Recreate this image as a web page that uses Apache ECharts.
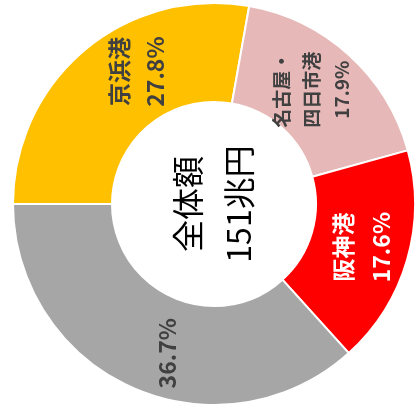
<!DOCTYPE html>
<html lang="ja">
<head>
    <meta charset="UTF-8">
    <script src="https://cdn.jsdelivr.net/npm/echarts@6/dist/echarts.min.js"></script>
    <style>
        body { margin: 0; background: #ffffff; }
        #chart { width: 420px; height: 410px; }
    </style>
</head>
<body>
    <div id="chart"></div>
    <script>
        var chart = echarts.init(document.getElementById('chart'));

        var ports = ['京浜港', '名古屋・\n四日市港', '阪神港', 'その他'];
        var shares = [27.8, 17.9, 17.6, 36.7];
        var showName = [true, true, true, false];
        var centerLines = ['全体額', '151兆円'];

        // looks
        var colors = ['#FFC000', '#E6B9B8', '#FF0000', '#A6A6A6'];
        var labelColors = ['#404040', '#404040', '#ffffff', '#404040'];
        var labelSizes = [23, 19, 23, 23];
        var labelLines = [36, 30, 38, 30];
        // screen-space nudges (px); label is rotated 90deg so we swap below
        var labelNudge = [[22, -14], [-6, 0], [0, 0], [16, 8]];

        var pieData = ports.map(function (name, i) {
            return {
                name: name,
                value: shares[i],
                itemStyle: { color: colors[i] },
                label: {
                    color: labelColors[i],
                    fontSize: labelSizes[i],
                    lineHeight: labelLines[i]
                }
            };
        });

        var option = {
            backgroundColor: '#ffffff',
            animation: false,
            graphic: [{
                type: 'text',
                x: 213,
                y: 204,
                rotation: Math.PI / 2,
                style: {
                    text: centerLines.join('\n'),
                    font: '32px "Noto Sans CJK JP"',
                    lineHeight: 51,
                    fill: '#000000',
                    align: 'center',
                    verticalAlign: 'middle'
                }
            }],
            series: [{
                type: 'pie',
                center: [214, 204],
                radius: [102, 201],
                startAngle: 180,
                clockwise: true,
                itemStyle: { borderColor: '#ffffff', borderWidth: 2 },
                label: {
                    position: 'inside',
                    rotate: 90,
                    fontFamily: '"Noto Sans CJK JP"',
                    fontWeight: 'bold',
                    formatter: function (p) {
                        var pct = p.value.toFixed(1) + '%';
                        return showName[p.dataIndex] ? p.name + '\n' + pct : pct;
                    }
                },
                labelLayout: function (params) {
                    var n = labelNudge[params.dataIndex];
                    return { dx: -n[1], dy: n[0] };
                },
                labelLine: { show: false },
                data: pieData
            }]
        };

        chart.setOption(option);
    </script>
</body>
</html>
